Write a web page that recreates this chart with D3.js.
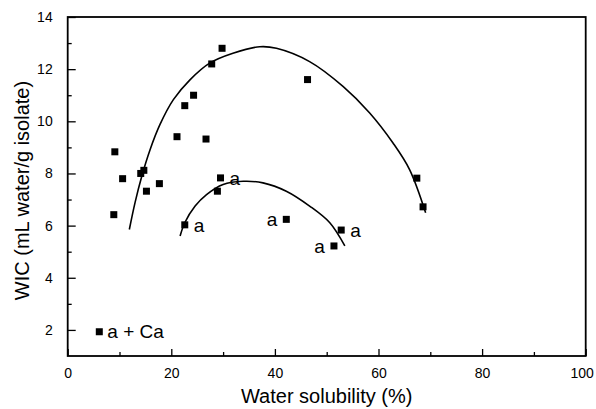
<!DOCTYPE html>
<html>
<head>
<meta charset="utf-8">
<script src="https://cdn.jsdelivr.net/npm/d3@7"></script>
<style>
  body { margin: 0; background: #fff; }
  text { font-family: Arial, 'Liberation Sans', sans-serif; fill: #000; }
</style>
</head>
<body>
<div id="chart"></div>
<script>
// 数据点
var solubility = [8.9, 9.1, 10.6, 14.1, 14.7, 15.2, 17.7, 21.1, 22.6, 24.3, 27.8, 29.8, 46.3, 26.7, 67.4, 68.6, 28.9]
var wic = [6.42, 8.83, 7.8, 8.0, 8.12, 7.32, 7.61, 9.41, 10.6, 11.0, 12.2, 12.8, 11.6, 9.32, 7.82, 6.72, 7.32]
// 标记 a 的点
var aSolubility = [29.5, 22.6, 42.2, 52.8, 51.4]
var aWic = [7.83, 6.03, 6.24, 5.83, 5.22]
var aSide = ['r', 'r', 'l', 'r', 'l']
// 拟合曲线
var bigCurveX = [11.9, 13.0, 14.3, 15.9, 17.8, 20.4, 23.6, 27.4, 31.9, 37.1, 40.3, 46.7, 53.2, 58.3, 62.8, 66.0, 69.1]
var bigCurveY = [5.85, 6.88, 7.89, 8.91, 9.87, 10.83, 11.59, 12.23, 12.61, 12.86, 12.80, 12.29, 11.33, 10.32, 9.17, 8.15, 6.49]
var smallCurveX = [21.7, 22.6, 24.6, 26.8, 30.0, 33.9, 37.7, 42.2, 46.7, 50.6, 53.5]
var smallCurveY = [5.6, 6.11, 6.75, 7.19, 7.58, 7.70, 7.64, 7.32, 6.75, 6.11, 5.22]
// 刻度
var xTicks = [0, 20, 40, 60, 80, 100]
var xMinor = [10, 30, 50, 70, 90]
var yTicks = [2, 4, 6, 8, 10, 12, 14]
var yMinor = [3, 5, 7, 9, 11, 13]

var width = 596, height = 409
var svg = d3.select('#chart')
  .append('svg')
  .attr('width', width)
  .attr('height', height)

var x = d3.scaleLinear().domain([0, 100]).range([67.7, 585.7])
var y = d3.scaleLinear().domain([1, 14]).range([356, 17])

// 坐标轴
var xAxis = d3.axisBottom(x).tickValues(xTicks).tickSize(-7).tickPadding(12)
var xAxisMinor = d3.axisBottom(x).tickValues(xMinor).tickSize(-4).tickFormat('')
var yAxis = d3.axisLeft(y).tickValues(yTicks).tickSize(-8).tickPadding(15)
var yAxisMinor = d3.axisLeft(y).tickValues(yMinor).tickSize(-4).tickFormat('')

function styleAxis(g) {
  g.select('.domain').remove()
  g.selectAll('.tick line').attr('stroke', '#000').attr('stroke-width', 1.3)
  g.selectAll('.tick text').attr('font-size', '14px').attr('fill', '#000')
}

var gx = svg.append('g').attr('transform', 'translate(0,' + y(1) + ')').call(xAxis).call(styleAxis)
// 100 贴边，稍微左移
gx.selectAll('.tick text').filter(function(d) { return d === 100 }).attr('dx', -4)
svg.append('g').attr('transform', 'translate(0,' + y(1) + ')').call(xAxisMinor).call(styleAxis)
svg.append('g').attr('transform', 'translate(' + x(0) + ',0)').call(yAxis).call(styleAxis)
svg.append('g').attr('transform', 'translate(' + x(0) + ',0)').call(yAxisMinor).call(styleAxis)

// 边框
svg.append('rect')
  .attr('x', x(0))
  .attr('y', y(14))
  .attr('width', x(100) - x(0))
  .attr('height', y(1) - y(14))
  .attr('fill', 'none')
  .attr('stroke', '#000')
  .attr('stroke-width', 1.8)

// 曲线
var line = d3.line()
  .x(function(d) { return x(d[0]) })
  .y(function(d) { return y(d[1]) })
  .curve(d3.curveCatmullRom)

svg.append('path')
  .datum(d3.zip(bigCurveX, bigCurveY))
  .attr('fill', 'none')
  .attr('stroke', '#000')
  .attr('stroke-width', 1.6)
  .attr('d', line)

svg.append('path')
  .datum(d3.zip(smallCurveX, smallCurveY))
  .attr('fill', 'none')
  .attr('stroke', '#000')
  .attr('stroke-width', 1.6)
  .attr('d', line)

// 方块
var s = 7
svg.selectAll('.pt')
  .data(d3.zip(solubility, wic).concat(d3.zip(aSolubility, aWic)))
  .enter()
  .append('rect')
  .attr('class', 'pt')
  .attr('x', function(d) { return x(d[0]) - s / 2 })
  .attr('y', function(d) { return y(d[1]) - s / 2 })
  .attr('width', s)
  .attr('height', s)
  .attr('fill', '#000')

// a 标签
svg.selectAll('.alabel')
  .data(d3.zip(aSolubility, aWic, aSide))
  .enter()
  .append('text')
  .attr('class', 'alabel')
  .attr('x', function(d) { return x(d[0]) + (d[2] === 'r' ? 9 : -9) })
  .attr('y', function(d) { return y(d[1]) + 7 })
  .attr('text-anchor', function(d) { return d[2] === 'r' ? 'start' : 'end' })
  .attr('font-size', '19px')
  .text('a')

// 图例
svg.append('rect')
  .attr('x', x(6.1) - s / 2)
  .attr('y', y(1.93) - s / 2)
  .attr('width', s)
  .attr('height', s)
  .attr('fill', '#000')
svg.append('text')
  .attr('x', x(6.1) + 8)
  .attr('y', y(1.93) + 6)
  .attr('font-size', '19px')
  .text('a + Ca')

// 轴标题
svg.append('text')
  .attr('x', (x(0) + x(100)) / 2)
  .attr('y', 403)
  .attr('text-anchor', 'middle')
  .attr('font-size', '20px')
  .text('Water solubility (%)')

svg.append('text')
  .attr('transform', 'translate(29,' + ((y(1) + y(14)) / 2 + 4) + ') rotate(-90)')
  .attr('text-anchor', 'middle')
  .attr('font-size', '20px')
  .text('WIC (mL water/g isolate)')
</script>
</body>
</html>
